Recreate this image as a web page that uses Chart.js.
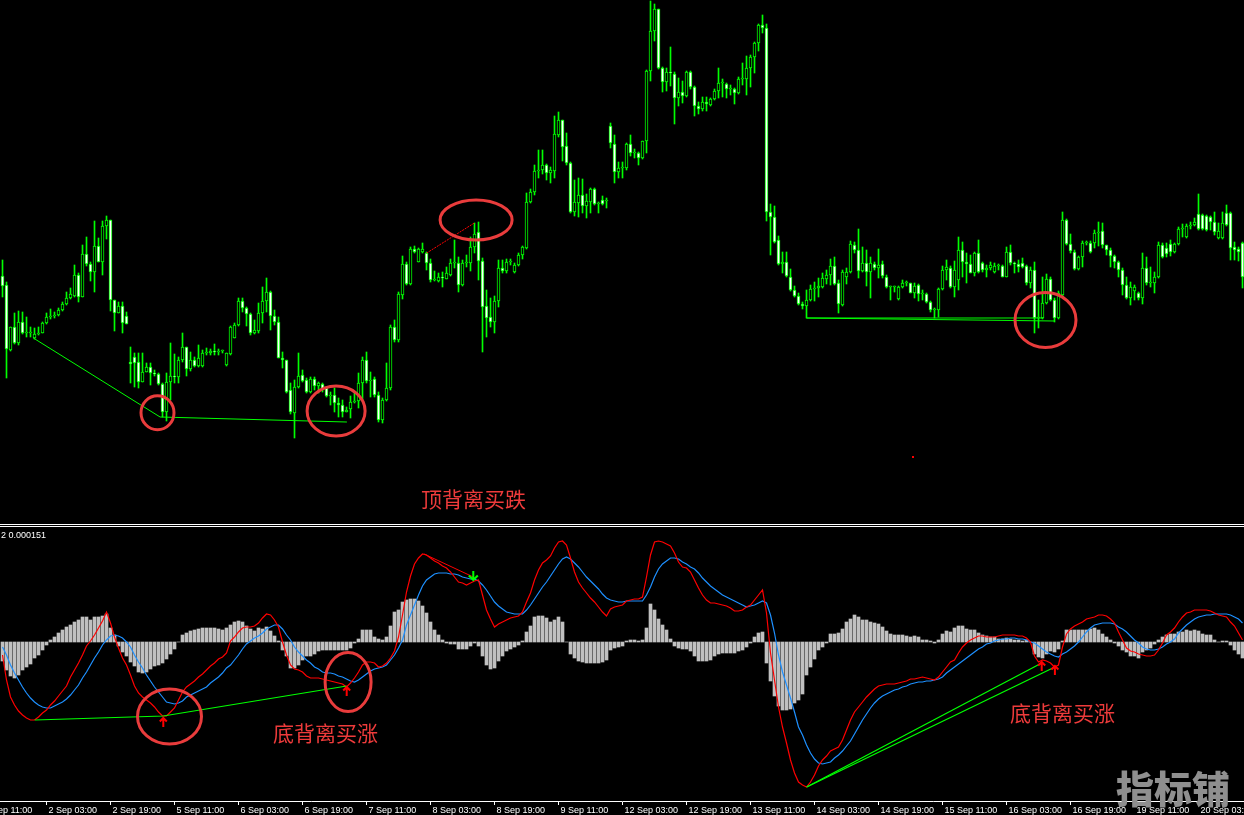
<!DOCTYPE html>
<html lang="zh">
<head>
<meta charset="utf-8">
<title>MACD 背离</title>
<script src="https://cdn.jsdelivr.net/npm/chart.js@4.4.1/dist/chart.umd.min.js"></script>
<style>
  html, body { margin:0; padding:0; background:#000; }
  #stage { position:relative; width:1244px; height:815px; overflow:hidden; background:#000; }
  #priceCanvas { position:absolute; left:0; top:0; }
  #macdCanvas { position:absolute; left:0; top:527px; }
  .sep { position:absolute; left:0; width:1244px; height:1px; background:#ffffff; }
  .note { position:absolute; font-family:"Noto Sans CJK SC", sans-serif; font-size:21px; line-height:1; color:#ee3b3b; white-space:nowrap; transform:translateY(-50%); }
  #indName { position:absolute; left:1px; top:530px; font-family:"Liberation Sans", sans-serif; font-size:9px; line-height:10px; color:#fff; white-space:nowrap; }
  #mark { position:absolute; left:1116px; top:768px; font-family:"Noto Sans CJK SC", sans-serif; font-weight:900; font-size:38px; line-height:1; color:#8f8f8f; white-space:nowrap; }
</style>
</head>
<body>
<div id="stage">
  <canvas id="priceCanvas" width="1244" height="524"></canvas>
  <div class="sep" style="top:524px"></div>
  <div class="sep" style="top:526px"></div>
  <canvas id="macdCanvas" width="1244" height="288"></canvas>
  <div id="indName">2 0.000151</div>
  <div id="mark">指标铺</div>
</div>
<script>
// ---------- time axis ----------
const tickBars = [-5,11,27,43,59,75,91,107,123,139,155,171,187,203,219,235,251,267,283,299];
const tickLabels = ['1 Sep 11:00','2 Sep 03:00','2 Sep 19:00','5 Sep 11:00','6 Sep 03:00','6 Sep 19:00','7 Sep 11:00','8 Sep 03:00','8 Sep 19:00','9 Sep 11:00','12 Sep 03:00','12 Sep 19:00','13 Sep 11:00','14 Sep 03:00','14 Sep 19:00','15 Sep 11:00','16 Sep 03:00','16 Sep 19:00','19 Sep 11:00','20 Sep 03:00'];

// ---------- H1 candles ----------
const open = [1.1723,1.1714,1.1649,1.1672,1.1656,1.1677,1.1666,1.1666,1.1661,1.1665,
1.1666,1.1676,1.1682,1.1683,1.1684,1.1689,1.1695,1.1701,1.1703,1.1724,
1.1702,1.1745,1.1735,1.1727,1.1753,1.1737,1.1773,1.1779,1.1699,1.1686,
1.1693,1.1683,1.1637,1.1642,1.1637,1.1617,1.1627,1.1632,1.1626,1.1625,
1.1615,1.1587,1.1617,1.1623,1.1622,1.1639,1.1652,1.1630,1.1639,1.1633,
1.1633,1.1646,1.1646,1.1648,1.1647,1.1648,1.1634,1.1645,1.1661,1.1674,
1.1698,1.1691,1.1685,1.1666,1.1668,1.1686,1.1698,1.1707,1.1683,1.1677,
1.1641,1.1639,1.1609,1.1586,1.1612,1.1624,1.1619,1.1607,1.1620,1.1613,
1.1615,1.1611,1.1603,1.1604,1.1596,1.1594,1.1587,1.1590,1.1597,1.1598,
1.1616,1.1639,1.1618,1.1620,1.1604,1.1579,1.1599,1.1611,1.1672,1.1659,
1.1704,1.1735,1.1715,1.1750,1.1737,1.1747,1.1746,1.1736,1.1719,1.1718,
1.1722,1.1720,1.1724,1.1736,1.1736,1.1714,1.1736,1.1736,1.1752,1.1767,
1.1738,1.1693,1.1682,1.1677,1.1698,1.1731,1.1728,1.1737,1.1727,1.1734,
1.1744,1.1751,1.1797,1.1807,1.1828,1.1829,1.1834,1.1826,1.1828,1.1864,
1.1879,1.1853,1.1836,1.1787,1.1796,1.1804,1.1793,1.1797,1.1810,1.1795,
1.1799,1.1798,1.1873,1.1855,1.1827,1.1831,1.1831,1.1855,1.1846,1.1846,
1.1841,1.1858,1.1928,1.1968,1.1990,1.1931,1.1917,1.1927,1.1925,1.1901,
1.1907,1.1903,1.1927,1.1912,1.1893,1.1890,1.1897,1.1894,1.1900,1.1908,
1.1916,1.1915,1.1910,1.1910,1.1906,1.1920,1.1920,1.1931,1.1942,1.1956,
1.1974,1.1971,1.1787,1.1782,1.1759,1.1735,1.1737,1.1722,1.1709,1.1703,
1.1695,1.1693,1.1699,1.1710,1.1711,1.1712,1.1720,1.1724,1.1733,1.1716,
1.1694,1.1722,1.1727,1.1754,1.1749,1.1728,1.1736,1.1727,1.1735,1.1731,
1.1735,1.1722,1.1712,1.1712,1.1700,1.1712,1.1716,1.1716,1.1706,1.1714,
1.1705,1.1705,1.1697,1.1689,1.1689,1.1710,1.1729,1.1731,1.1712,1.1719,
1.1749,1.1737,1.1735,1.1726,1.1746,1.1736,1.1729,1.1731,1.1727,1.1733,
1.1733,1.1722,1.1747,1.1736,1.1735,1.1736,1.1733,1.1716,1.1729,1.1681,
1.1681,1.1696,1.1720,1.1699,1.1681,1.1704,1.1779,1.1755,1.1747,1.1730,
1.1742,1.1756,1.1756,1.1756,1.1766,1.1768,1.1754,1.1749,1.1743,1.1737,
1.1729,1.1714,1.1701,1.1708,1.1706,1.1701,1.1731,1.1716,1.1716,1.1722,
1.1754,1.1751,1.1755,1.1747,1.1755,1.1770,1.1762,1.1773,1.1774,1.1785,
1.1784,1.1783,1.1782,1.1777,1.1761,1.1761,1.1786,1.1786,1.1752,1.1750,1.1756];

const high = [1.1739,1.1717,1.1672,1.1686,1.1688,1.1687,1.1682,1.1672,1.1671,1.1672,
1.1677,1.1686,1.1690,1.1687,1.1691,1.1697,1.1707,1.1711,1.1734,1.1726,
1.1754,1.1762,1.1737,1.1778,1.1761,1.1778,1.1783,1.1779,1.1699,1.1697,
1.1697,1.1687,1.1652,1.1646,1.1646,1.1646,1.1636,1.1636,1.1629,1.1626,
1.1616,1.1626,1.1656,1.1645,1.1642,1.1666,1.1652,1.1647,1.1642,1.1654,
1.1649,1.1651,1.1650,1.1655,1.1650,1.1649,1.1646,1.1673,1.1676,1.1701,
1.1701,1.1692,1.1686,1.1679,1.1696,1.1712,1.1721,1.1708,1.1689,1.1682,
1.1647,1.1639,1.1616,1.1619,1.1646,1.1629,1.1621,1.1622,1.1622,1.1617,
1.1616,1.1612,1.1607,1.1611,1.1601,1.1599,1.1592,1.1603,1.1606,1.1626,
1.1642,1.1647,1.1627,1.1622,1.1607,1.1601,1.1636,1.1674,1.1679,1.1707,
1.1743,1.1737,1.1752,1.1753,1.1751,1.1756,1.1747,1.1740,1.1728,1.1726,
1.1727,1.1732,1.1740,1.1759,1.1742,1.1739,1.1744,1.1762,1.1776,1.1777,
1.1741,1.1709,1.1701,1.1703,1.1739,1.1739,1.1740,1.1740,1.1736,1.1746,
1.1753,1.1806,1.1810,1.1834,1.1849,1.1849,1.1835,1.1832,1.1883,1.1887,
1.1879,1.1866,1.1837,1.1819,1.1821,1.1820,1.1805,1.1811,1.1811,1.1797,
1.1803,1.1801,1.1876,1.1864,1.1837,1.1837,1.1856,1.1864,1.1850,1.1847,
1.1858,1.1929,1.1998,1.1995,1.1990,1.1932,1.1931,1.1952,1.1927,1.1921,
1.1918,1.1928,1.1928,1.1913,1.1897,1.1902,1.1902,1.1901,1.1910,1.1931,
1.1920,1.1916,1.1914,1.1911,1.1922,1.1936,1.1943,1.1944,1.1957,1.1975,
1.1984,1.1975,1.1795,1.1793,1.1763,1.1747,1.1747,1.1730,1.1713,1.1706,
1.1697,1.1709,1.1714,1.1717,1.1721,1.1726,1.1729,1.1740,1.1742,1.1719,
1.1729,1.1731,1.1758,1.1757,1.1770,1.1752,1.1749,1.1742,1.1737,1.1750,
1.1738,1.1724,1.1713,1.1713,1.1713,1.1719,1.1718,1.1716,1.1716,1.1715,
1.1709,1.1706,1.1698,1.1691,1.1711,1.1733,1.1739,1.1733,1.1738,1.1762,
1.1757,1.1746,1.1744,1.1747,1.1759,1.1737,1.1734,1.1737,1.1736,1.1735,
1.1734,1.1752,1.1754,1.1737,1.1739,1.1741,1.1734,1.1732,1.1737,1.1699,
1.1722,1.1725,1.1722,1.1701,1.1708,1.1787,1.1780,1.1765,1.1749,1.1743,
1.1758,1.1758,1.1758,1.1769,1.1777,1.1776,1.1754,1.1751,1.1744,1.1738,
1.1731,1.1722,1.1717,1.1714,1.1707,1.1746,1.1742,1.1732,1.1727,1.1757,
1.1756,1.1756,1.1759,1.1756,1.1772,1.1775,1.1775,1.1777,1.1781,1.1805,
1.1785,1.1784,1.1783,1.1787,1.1776,1.1787,1.1794,1.1787,1.1757,1.1752,1.1757];

const low = [1.1702,1.1621,1.1648,1.1655,1.1654,1.1665,1.1662,1.1662,1.1660,1.1664,
1.1666,1.1675,1.1680,1.1681,1.1683,1.1688,1.1694,1.1700,1.1702,1.1697,
1.1702,1.1733,1.1718,1.1707,1.1737,1.1724,1.1760,1.1688,1.1668,1.1686,
1.1666,1.1675,1.1616,1.1612,1.1611,1.1617,1.1627,1.1614,1.1623,1.1614,
1.1582,1.1578,1.1599,1.1616,1.1616,1.1637,1.1623,1.1628,1.1632,1.1632,
1.1632,1.1644,1.1644,1.1644,1.1644,1.1646,1.1633,1.1644,1.1661,1.1673,
1.1687,1.1673,1.1664,1.1665,1.1666,1.1676,1.1687,1.1669,1.1674,1.1641,
1.1631,1.1606,1.1585,1.1561,1.1611,1.1617,1.1606,1.1606,1.1609,1.1606,
1.1607,1.1602,1.1594,1.1587,1.1582,1.1582,1.1587,1.1581,1.1596,1.1591,
1.1599,1.1616,1.1602,1.1602,1.1577,1.1576,1.1598,1.1609,1.1657,1.1657,
1.1700,1.1714,1.1714,1.1746,1.1737,1.1746,1.1729,1.1717,1.1718,1.1717,
1.1712,1.1720,1.1723,1.1731,1.1707,1.1713,1.1732,1.1728,1.1746,1.1719,
1.1647,1.1662,1.1672,1.1666,1.1692,1.1726,1.1726,1.1734,1.1726,1.1733,
1.1740,1.1750,1.1796,1.1804,1.1821,1.1825,1.1819,1.1816,1.1821,1.1862,
1.1838,1.1834,1.1786,1.1783,1.1782,1.1786,1.1781,1.1786,1.1794,1.1786,
1.1794,1.1791,1.1851,1.1816,1.1821,1.1821,1.1829,1.1843,1.1841,1.1834,
1.1840,1.1846,1.1918,1.1958,1.1930,1.1907,1.1908,1.1913,1.1875,1.1893,
1.1896,1.1902,1.1910,1.1883,1.1885,1.1888,1.1888,1.1893,1.1899,1.1901,
1.1902,1.1901,1.1904,1.1895,1.1905,1.1914,1.1904,1.1912,1.1926,1.1948,
1.1966,1.1778,1.1744,1.1756,1.1734,1.1726,1.1722,1.1708,1.1702,1.1694,
1.1690,1.1681,1.1698,1.1698,1.1702,1.1711,1.1715,1.1714,1.1714,1.1686,
1.1693,1.1715,1.1726,1.1746,1.1721,1.1727,1.1713,1.1701,1.1729,1.1721,
1.1721,1.1711,1.1699,1.1707,1.1699,1.1711,1.1713,1.1706,1.1701,1.1698,
1.1699,1.1696,1.1687,1.1681,1.1682,1.1709,1.1719,1.1711,1.1702,1.1709,
1.1722,1.1716,1.1726,1.1723,1.1726,1.1727,1.1722,1.1729,1.1726,1.1729,
1.1722,1.1722,1.1734,1.1726,1.1727,1.1731,1.1714,1.1711,1.1666,1.1671,
1.1680,1.1695,1.1698,1.1677,1.1680,1.1702,1.1754,1.1746,1.1729,1.1729,
1.1732,1.1754,1.1746,1.1751,1.1753,1.1751,1.1744,1.1732,1.1731,1.1722,
1.1704,1.1700,1.1694,1.1699,1.1699,1.1695,1.1714,1.1712,1.1706,1.1721,
1.1741,1.1742,1.1743,1.1746,1.1754,1.1762,1.1761,1.1770,1.1773,1.1769,
1.1769,1.1768,1.1769,1.1764,1.1760,1.1760,1.1773,1.1739,1.1739,1.1738,1.1711];

const close = [1.1713,1.1650,1.1672,1.1656,1.1677,1.1666,1.1666,1.1666,1.1665,1.1666,
1.1676,1.1682,1.1683,1.1684,1.1689,1.1695,1.1701,1.1705,1.1724,1.1702,
1.1745,1.1735,1.1727,1.1753,1.1737,1.1773,1.1779,1.1699,1.1686,1.1693,
1.1676,1.1675,1.1635,1.1636,1.1617,1.1627,1.1632,1.1626,1.1625,1.1615,
1.1587,1.1617,1.1623,1.1622,1.1639,1.1652,1.1630,1.1639,1.1633,1.1641,
1.1646,1.1646,1.1648,1.1647,1.1648,1.1648,1.1646,1.1672,1.1674,1.1698,
1.1691,1.1685,1.1666,1.1669,1.1686,1.1698,1.1707,1.1683,1.1677,1.1641,
1.1639,1.1607,1.1587,1.1612,1.1623,1.1618,1.1607,1.1620,1.1613,1.1616,
1.1609,1.1603,1.1603,1.1596,1.1594,1.1587,1.1589,1.1597,1.1598,1.1616,
1.1639,1.1618,1.1618,1.1604,1.1579,1.1599,1.1611,1.1672,1.1659,1.1705,
1.1735,1.1715,1.1750,1.1747,1.1750,1.1750,1.1736,1.1719,1.1720,1.1722,
1.1721,1.1726,1.1736,1.1736,1.1714,1.1736,1.1737,1.1752,1.1765,1.1738,
1.1692,1.1681,1.1677,1.1698,1.1731,1.1728,1.1737,1.1737,1.1734,1.1744,
1.1752,1.1797,1.1807,1.1828,1.1829,1.1834,1.1826,1.1829,1.1865,1.1879,
1.1852,1.1836,1.1787,1.1797,1.1804,1.1793,1.1798,1.1810,1.1795,1.1796,
1.1795,1.1799,1.1856,1.1827,1.1831,1.1831,1.1855,1.1846,1.1846,1.1841,
1.1858,1.1928,1.1968,1.1990,1.1931,1.1917,1.1927,1.1926,1.1901,1.1907,
1.1903,1.1927,1.1912,1.1893,1.1890,1.1897,1.1895,1.1900,1.1908,1.1916,
1.1916,1.1910,1.1910,1.1906,1.1920,1.1920,1.1931,1.1942,1.1956,1.1974,
1.1971,1.1787,1.1782,1.1757,1.1735,1.1737,1.1723,1.1709,1.1703,1.1695,
1.1693,1.1699,1.1710,1.1711,1.1713,1.1721,1.1724,1.1733,1.1715,1.1695,
1.1727,1.1727,1.1755,1.1749,1.1728,1.1736,1.1727,1.1736,1.1731,1.1734,
1.1723,1.1712,1.1712,1.1712,1.1712,1.1716,1.1716,1.1706,1.1713,1.1705,
1.1705,1.1697,1.1689,1.1689,1.1710,1.1729,1.1732,1.1712,1.1729,1.1749,
1.1737,1.1735,1.1726,1.1746,1.1727,1.1729,1.1731,1.1734,1.1733,1.1733,
1.1722,1.1747,1.1736,1.1735,1.1732,1.1732,1.1716,1.1729,1.1681,1.1681,
1.1696,1.1720,1.1699,1.1681,1.1706,1.1779,1.1755,1.1748,1.1730,1.1742,
1.1756,1.1756,1.1747,1.1766,1.1767,1.1754,1.1749,1.1743,1.1737,1.1729,
1.1714,1.1701,1.1712,1.1712,1.1701,1.1731,1.1716,1.1716,1.1722,1.1754,
1.1742,1.1745,1.1747,1.1755,1.1770,1.1770,1.1773,1.1773,1.1777,1.1770,
1.1770,1.1769,1.1777,1.1767,1.1768,1.1776,1.1774,1.1751,1.1749,1.1747,1.1722];

// ---------- oscillator (sub window) ----------
const histogram = [-19e-5,-28e-5,-34e-5,-36e-5,-33e-5,-28e-5,-25e-5,-22e-5,-16e-5,-13e-5,
-8e-5,-3e-5,2e-5,5e-5,9e-5,12e-5,15e-5,17e-5,20e-5,22e-5,
25e-5,25e-5,22e-5,25e-5,25e-5,26e-5,28e-5,14e-5,7e-5,-4e-5,
-10e-5,-14e-5,-20e-5,-24e-5,-30e-5,-31e-5,-30e-5,-27e-5,-24e-5,-23e-5,
-21e-5,-17e-5,-12e-5,-7e-5,0,7e-5,9e-5,11e-5,12e-5,13e-5,
14e-5,14e-5,14e-5,14e-5,13e-5,12e-5,14e-5,17e-5,20e-5,21e-5,
20e-5,16e-5,13e-5,11e-5,14e-5,13e-5,15e-5,11e-5,6e-5,1e-5,
-8e-5,-14e-5,-26e-5,-26e-5,-23e-5,-18e-5,-14e-5,-14e-5,-12e-5,-9e-5,
-8e-5,-8e-5,-8e-5,-8e-5,-8e-5,-8e-5,-8e-5,-6e-5,-1e-5,3e-5,
12e-5,12e-5,12e-5,5e-5,3e-5,2e-5,5e-5,16e-5,30e-5,32e-5,
40e-5,42e-5,43e-5,43e-5,41e-5,36e-5,29e-5,20e-5,12e-5,7e-5,
2e-5,-1e-5,-2e-5,-2e-5,-7e-5,-7e-5,-7e-5,-4e-5,-1e-5,-4e-5,
-14e-5,-23e-5,-27e-5,-26e-5,-19e-5,-14e-5,-9e-5,-7e-5,-5e-5,-3e-5,
1e-5,10e-5,16e-5,25e-5,26e-5,26e-5,24e-5,20e-5,22e-5,25e-5,
20e-5,0,-12e-5,-16e-5,-19e-5,-20e-5,-21e-5,-21e-5,-21e-5,-21e-5,
-20e-5,-18e-5,-8e-5,-6e-5,-5e-5,-4e-5,1e-5,2e-5,2e-5,1e-5,
2e-5,14e-5,38e-5,32e-5,23e-5,17e-5,12e-5,3e-5,-4e-5,-6e-5,
-7e-5,-7e-5,-9e-5,-14e-5,-19e-5,-19e-5,-19e-5,-18e-5,-14e-5,-12e-5,
-11e-5,-11e-5,-11e-5,-11e-5,-9e-5,-8e-5,-5e-5,-1e-5,5e-5,9e-5,
10e-5,-21e-5,-39e-5,-54e-5,-64e-5,-68e-5,-68e-5,-67e-5,-61e-5,-58e-5,
-52e-5,-33e-5,-25e-5,-17e-5,-8e-5,-5e-5,-1e-5,8e-5,8e-5,9e-5,
13e-5,20e-5,23e-5,27e-5,25e-5,22e-5,22e-5,20e-5,19e-5,18e-5,
15e-5,11e-5,8e-5,7e-5,7e-5,7e-5,6e-5,5e-5,6e-5,5e-5,
2e-5,2e-5,1e-5,-1e-5,2e-5,8e-5,11e-5,10e-5,14e-5,16e-5,
16e-5,13e-5,12e-5,12e-5,9e-5,7e-5,6e-5,5e-5,5e-5,3e-5,
3e-5,4e-5,3e-5,2e-5,2e-5,1e-5,2e-5,0,-12e-5,-15e-5,
-16e-5,-12e-5,-9e-5,-10e-5,-7e-5,1e-5,12e-5,12e-5,12e-5,12e-5,
12e-5,12e-5,13e-5,14e-5,12e-5,8e-5,5e-5,2e-5,-1e-5,-4e-5,
-8e-5,-10e-5,-14e-5,-14e-5,-16e-5,-10e-5,-8e-5,-6e-5,-2e-5,2e-5,
5e-5,7e-5,8e-5,8e-5,10e-5,10e-5,12e-5,11e-5,12e-5,11e-5,
8e-5,7e-5,7e-5,2e-5,0,1e-5,1e-5,-3e-5,-8e-5,-12e-5,-16e-5];

const redLine = [-13e-5,-38e-5,-55e-5,-63e-5,-69e-5,-73e-5,-76e-5,-78e-5,-78e-5,-75e-5,
-71e-5,-68e-5,-63e-5,-59e-5,-54e-5,-49e-5,-44e-5,-35e-5,-28e-5,-21e-5,
-13e-5,-4e-5,1e-5,7e-5,14e-5,21e-5,30e-5,19e-5,5e-5,-6e-5,
-16e-5,-23e-5,-33e-5,-44e-5,-51e-5,-55e-5,-58e-5,-61e-5,-65e-5,-70e-5,
-74e-5,-74e-5,-70e-5,-66e-5,-58e-5,-50e-5,-45e-5,-42e-5,-39e-5,-35e-5,
-32e-5,-28e-5,-24e-5,-21e-5,-17e-5,-15e-5,-11e-5,1e-5,5e-5,10e-5,
14e-5,15e-5,15e-5,16e-5,19e-5,24e-5,28e-5,27e-5,22e-5,15e-5,
0,-13e-5,-23e-5,-27e-5,-28e-5,-30e-5,-34e-5,-36e-5,-36e-5,-36e-5,
-37e-5,-38e-5,-39e-5,-40e-5,-41e-5,-42e-5,-45e-5,-41e-5,-36e-5,-30e-5,
-23e-5,-20e-5,-20e-5,-21e-5,-25e-5,-24e-5,-21e-5,-16e-5,-9e-5,5e-5,
27e-5,50e-5,66e-5,78e-5,84e-5,88e-5,87e-5,84e-5,81e-5,79e-5,
76e-5,74e-5,70e-5,65e-5,60e-5,59e-5,57e-5,59e-5,61e-5,62e-5,
47e-5,32e-5,23e-5,15e-5,18e-5,20e-5,22e-5,24e-5,25e-5,26e-5,
30e-5,40e-5,49e-5,62e-5,72e-5,79e-5,82e-5,86e-5,94e-5,100e-5,
101e-5,97e-5,84e-5,70e-5,60e-5,54e-5,49e-5,44e-5,40e-5,35e-5,
30e-5,26e-5,33e-5,35e-5,36e-5,37e-5,41e-5,42e-5,43e-5,43e-5,
45e-5,65e-5,87e-5,100e-5,101e-5,100e-5,98e-5,96e-5,89e-5,80e-5,
75e-5,74e-5,70e-5,62e-5,54e-5,47e-5,42e-5,39e-5,39e-5,38e-5,
37e-5,36e-5,34e-5,31e-5,31e-5,32e-5,35e-5,37e-5,42e-5,47e-5,
52e-5,29e-5,-11e-5,-38e-5,-65e-5,-85e-5,-101e-5,-118e-5,-131e-5,-140e-5,
-143e-5,-145e-5,-140e-5,-133e-5,-124e-5,-118e-5,-114e-5,-109e-5,-107e-5,-105e-5,
-98e-5,-88e-5,-78e-5,-70e-5,-65e-5,-60e-5,-55e-5,-51e-5,-47e-5,-44e-5,
-43e-5,-42e-5,-42e-5,-42e-5,-41e-5,-40e-5,-39e-5,-37e-5,-37e-5,-36e-5,
-35e-5,-36e-5,-37e-5,-38e-5,-35e-5,-30e-5,-25e-5,-20e-5,-18e-5,-11e-5,
-5e-5,-1e-5,2e-5,4e-5,6e-5,6e-5,5e-5,5e-5,5e-5,6e-5,
7e-5,7e-5,7e-5,7e-5,6e-5,6e-5,4e-5,0,-14e-5,-20e-5,
-18e-5,-19e-5,-21e-5,-25e-5,-23e-5,-5e-5,8e-5,13e-5,16e-5,18e-5,
20e-5,23e-5,24e-5,25e-5,27e-5,27e-5,26e-5,23e-5,19e-5,10e-5,
2e-5,-6e-5,-9e-5,-10e-5,-12e-5,-13e-5,-14e-5,-14e-5,-13e-5,-8e-5,
-1e-5,7e-5,10e-5,14e-5,20e-5,25e-5,29e-5,30e-5,32e-5,32e-5,
32e-5,32e-5,31e-5,29e-5,27e-5,26e-5,25e-5,20e-5,16e-5,9e-5,2e-5];

const blueLine = [-5e-5,-13e-5,-23e-5,-31e-5,-38e-5,-45e-5,-51e-5,-56e-5,-60e-5,-63e-5,
-65e-5,-66e-5,-66e-5,-64e-5,-62e-5,-60e-5,-57e-5,-53e-5,-48e-5,-43e-5,
-36e-5,-30e-5,-23e-5,-16e-5,-10e-5,-3e-5,2e-5,6e-5,7e-5,6e-5,
4e-5,0,-5e-5,-13e-5,-20e-5,-26e-5,-33e-5,-39e-5,-45e-5,-50e-5,
-55e-5,-60e-5,-61e-5,-62e-5,-61e-5,-59e-5,-55e-5,-53e-5,-51e-5,-49e-5,
-47e-5,-45e-5,-41e-5,-38e-5,-35e-5,-31e-5,-26e-5,-23e-5,-18e-5,-13e-5,
-7e-5,-2e-5,1e-5,4e-5,6e-5,9e-5,13e-5,15e-5,17e-5,17e-5,
13e-5,7e-5,2e-5,-5e-5,-10e-5,-14e-5,-18e-5,-21e-5,-25e-5,-27e-5,
-30e-5,-31e-5,-31e-5,-32e-5,-34e-5,-35e-5,-37e-5,-39e-5,-40e-5,-38e-5,
-35e-5,-32e-5,-29e-5,-27e-5,-26e-5,-25e-5,-23e-5,-18e-5,-13e-5,-6e-5,
2e-5,17e-5,27e-5,37e-5,47e-5,56e-5,62e-5,65e-5,68e-5,69e-5,
69e-5,69e-5,68e-5,68e-5,67e-5,65e-5,64e-5,63e-5,63e-5,61e-5,
57e-5,52e-5,46e-5,40e-5,36e-5,33e-5,30e-5,29e-5,28e-5,28e-5,
28e-5,32e-5,37e-5,43e-5,49e-5,55e-5,60e-5,66e-5,72e-5,78e-5,
83e-5,85e-5,83e-5,79e-5,75e-5,70e-5,65e-5,61e-5,57e-5,53e-5,
48e-5,44e-5,42e-5,41e-5,40e-5,40e-5,41e-5,41e-5,41e-5,41e-5,
41e-5,47e-5,55e-5,65e-5,73e-5,78e-5,81e-5,84e-5,84e-5,83e-5,
80e-5,78e-5,75e-5,73e-5,69e-5,64e-5,60e-5,56e-5,53e-5,50e-5,
47e-5,45e-5,43e-5,41e-5,39e-5,37e-5,35e-5,36e-5,37e-5,39e-5,
41e-5,39e-5,27e-5,9e-5,-13e-5,-30e-5,-43e-5,-56e-5,-70e-5,-85e-5,
-93e-5,-103e-5,-111e-5,-117e-5,-121e-5,-122e-5,-121e-5,-120e-5,-116e-5,-113e-5,
-109e-5,-104e-5,-99e-5,-92e-5,-85e-5,-78e-5,-72e-5,-66e-5,-61e-5,-57e-5,
-54e-5,-52e-5,-50e-5,-48e-5,-47e-5,-45e-5,-44e-5,-42e-5,-41e-5,-40e-5,
-40e-5,-39e-5,-39e-5,-38e-5,-37e-5,-35e-5,-31e-5,-28e-5,-25e-5,-22e-5,
-19e-5,-16e-5,-13e-5,-10e-5,-7e-5,-5e-5,-2e-5,-1e-5,1e-5,2e-5,
3e-5,3e-5,4e-5,4e-5,3e-5,3e-5,2e-5,0,-1e-5,-4e-5,
-7e-5,-10e-5,-12e-5,-14e-5,-15e-5,-12e-5,-10e-5,-7e-5,-4e-5,0,
5e-5,10e-5,14e-5,17e-5,18e-5,19e-5,19e-5,19e-5,18e-5,15e-5,
13e-5,10e-5,6e-5,2e-5,-1e-5,-5e-5,-7e-5,-8e-5,-8e-5,-7e-5,
-5e-5,-2e-5,0,3e-5,9e-5,13e-5,17e-5,20e-5,23e-5,25e-5,
26e-5,27e-5,27e-5,28e-5,28e-5,28e-5,28e-5,27e-5,25e-5,23e-5,19e-5];

// ---------- drawn divergence markup (bar index, value) ----------
const priceTrendLines = [
  {pts:[[7.7,1.1661],[39.4,1.1582],[86.1,1.1577]], color:'#00ff00', width:1},
  {pts:[[201,1.1681],[263.1,1.1678]], color:'#00ff00', width:1.2},
  {pts:[[201,1.1681],[260.2,1.1681]], color:'#00ff00', width:1.2},
  {pts:[[106.05,1.1746],[117.95,1.1776]], color:'#ff0000', width:1, dash:[2,1]}
];
const priceRings = [
  {bar:38.75, value:1.15862, rx:16.5, ry:17},
  {bar:83.4, value:1.1588, rx:29, ry:25},
  {bar:118.4, value:1.1779, rx:36, ry:20},
  {bar:260.75, value:1.1679, rx:30.5, ry:27.5}
];
const priceDots = [[227.6,1.1542]];
const macdTrendLines = [
  {pts:[[8.1,-78e-5],[40.2,-74e-5],[86.05,-44e-5]], color:'#00ff00', width:1.2},
  {pts:[[201.05,-145e-5],[259.8,-21e-5]], color:'#00ff00', width:1.3},
  {pts:[[201.05,-145e-5],[263.1,-25e-5]], color:'#00ff00', width:1.3},
  {pts:[[105.4,88e-5],[117.7,65e-5]], color:'#ff0000', width:1}
];
const macdRings = [
  {bar:41.75, value:-74.5e-5, rx:32, ry:27.5},
  {bar:86.4, value:-40e-5, rx:23, ry:29.5}
];
const upArrows = [[40.2,-76e-5],[86.05,-45e-5],[259.8,-20e-5],[263.1,-24e-5]];
const downArrows = [[117.7,62e-5]];
const notes = [
  {text:'顶背离买跌', panel:'price', bar:104.6, value:1.1501},
  {text:'底背离买涨', panel:'macd', bar:67.6, value:-90e-5},
  {text:'底背离买涨', panel:'macd', bar:251.9, value:-70e-5}
];

// ---------- rendering ----------
const barIndex = open.map((_, i) => i);
const X_MIN = -0.625, X_MAX = 310.375;

function drawArrow(ctx, x, y, s, color, half) {
  ctx.save();
  ctx.strokeStyle = color; ctx.lineWidth = 2; ctx.setLineDash([]);
  ctx.beginPath();
  ctx.moveTo(x, y + s * 1); ctx.lineTo(x, y + s * 9);
  ctx.moveTo(x - half, y + s * half); ctx.lineTo(x, y); ctx.lineTo(x + half, y + s * half);
  ctx.stroke();
  ctx.restore();
}

function markupPlugin(id, spec) {
  return {
    id,
    afterDatasetsDraw(chart) {
      const {ctx} = chart;
      const xs = chart.scales.x, ys = chart.scales.y;
      const px = b => xs.getPixelForValue(b), py = v => ys.getPixelForValue(v);
      ctx.save();
      (spec.lines || []).forEach(l => {
        ctx.beginPath();
        ctx.strokeStyle = l.color; ctx.lineWidth = l.width; ctx.setLineDash(l.dash || []);
        l.pts.forEach(([b, v], k) => k ? ctx.lineTo(px(b), py(v)) : ctx.moveTo(px(b), py(v)));
        ctx.stroke();
      });
      ctx.setLineDash([]);
      (spec.rings || []).forEach(r => {
        ctx.beginPath();
        ctx.strokeStyle = '#e93c3c'; ctx.lineWidth = 3;
        ctx.ellipse(px(r.bar), py(r.value), r.rx, r.ry, 0, 0, Math.PI * 2);
        ctx.stroke();
      });
      (spec.up || []).forEach(([b, v]) => drawArrow(ctx, px(b), py(v), 1, '#ff0000', 3.5));
      (spec.down || []).forEach(([b, v]) => drawArrow(ctx, px(b), py(v), -1, '#00ff00', 4.5));
      (spec.dots || []).forEach(([b, v]) => { ctx.fillStyle = '#ff0000'; ctx.fillRect(Math.round(px(b)) - 1, Math.round(py(v)) - 1, 2, 2); });
      ctx.restore();
    }
  };
}

const common = {
  responsive: false, animation: false, devicePixelRatio: 1, events: [],
  layout: { padding: 0 },
  plugins: { legend: { display: false }, tooltip: { enabled: false } }
};

const priceChart = new Chart(document.getElementById('priceCanvas'), {
  type: 'bar',
  data: {
    datasets: [
      { label: 'Body', data: barIndex.map(i => ({ x: i, y: [open[i], close[i]] })),
        barThickness: 3, minBarLength: 1, borderWidth: 1, borderColor: '#00ff00', borderSkipped: false,
        backgroundColor: c => close[c.dataIndex] < open[c.dataIndex] ? '#ffffff' : '#000000',
        grouped: false, order: 1 },
      { label: 'Wick', data: barIndex.map(i => ({ x: i, y: [low[i], high[i]] })),
        barThickness: 1, borderWidth: 0, backgroundColor: '#00ff00', grouped: false, order: 2 }
    ]
  },
  options: Object.assign({}, common, {
    scales: {
      x: { type: 'linear', min: X_MIN, max: X_MAX, offset: false, display: false },
      y: { type: 'linear', min: 1.1475, max: 1.1999, display: false }
    }
  }),
  plugins: [markupPlugin('priceMarkup', { lines: priceTrendLines, rings: priceRings, dots: priceDots })]
});

const macdChart = new Chart(document.getElementById('macdCanvas'), {
  type: 'bar',
  data: {
    datasets: [
      { type: 'line', label: 'Fast', data: barIndex.map(i => ({ x: i, y: redLine[i] })),
        borderColor: '#ff0000', borderWidth: 1.2, pointRadius: 0, tension: 0, order: 1 },
      { type: 'line', label: 'Signal', data: barIndex.map(i => ({ x: i, y: blueLine[i] })),
        borderColor: '#1e90ff', borderWidth: 1.2, pointRadius: 0, tension: 0, order: 2 },
      { type: 'bar', label: 'Histogram', data: barIndex.map(i => ({ x: i, y: histogram[i] })),
        backgroundColor: '#c0c0c0', borderWidth: 0, barThickness: 3, grouped: false, order: 3 }
    ]
  },
  options: Object.assign({}, common, {
    scales: {
      x: {
        type: 'linear', min: X_MIN, max: X_MAX, offset: false,
        grid: { drawOnChartArea: false, drawTicks: true, tickLength: 4, color: '#ffffff', lineWidth: 1, offset: false },
        border: { display: true, color: '#ffffff', width: 1 },
        ticks: {
          color: '#ffffff', font: { family: 'Liberation Sans', size: 9 }, align: 'start', labelOffset: 2,
          padding: 0, maxRotation: 0, autoSkip: false,
          callback: v => tickLabels[tickBars.indexOf(v)] || ''
        },
        afterBuildTicks: axis => { axis.ticks = tickBars.map(v => ({ value: v })); },
        afterFit: axis => { axis.height = 14; axis.paddingLeft = 0; axis.paddingRight = 0; }
      },
      y: { type: 'linear', min: -159e-5, max: 115e-5, display: false }
    }
  }),
  plugins: [markupPlugin('macdMarkup', { lines: macdTrendLines, rings: macdRings, up: upArrows, down: downArrows })]
});

const stage = document.getElementById('stage');
notes.forEach(n => {
  const chart = n.panel === 'price' ? priceChart : macdChart;
  const top = n.panel === 'price' ? 0 : 527;
  const el = document.createElement('div');
  el.className = 'note';
  el.textContent = n.text;
  el.style.left = chart.scales.x.getPixelForValue(n.bar) + 'px';
  el.style.top = (top + chart.scales.y.getPixelForValue(n.value)) + 'px';
  stage.insertBefore(el, document.getElementById('mark'));
});
</script>
</body>
</html>
